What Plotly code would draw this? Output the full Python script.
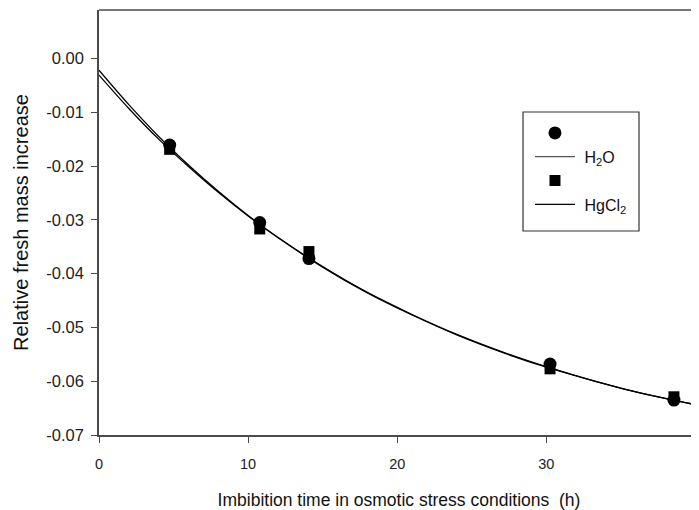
import plotly.graph_objects as go

# Measured points
time_h = [4.74, 10.78, 14.08, 30.25, 38.56]
h2o_y = [-0.0161, -0.0305, -0.0372, -0.0568, -0.0635]
hgcl2_y = [-0.0169, -0.0317, -0.0359, -0.0577, -0.0629]

# Fitted curves
curve_x = [0, 2, 4, 6, 8, 10, 12, 15, 18, 21, 24, 27, 30, 33, 36, 39, 41]
h2o_fit = [-0.0022, -0.0086, -0.0145, -0.0198, -0.0247, -0.0292, -0.0333, -0.0388,
           -0.0436, -0.0477, -0.0514, -0.0546, -0.0574, -0.0598, -0.0620, -0.0638, -0.0649]
hgcl2_fit = [-0.0031, -0.0093, -0.0150, -0.0201, -0.0249, -0.0293, -0.0333, -0.0387,
             -0.0435, -0.0476, -0.0513, -0.0545, -0.0573, -0.0598, -0.0620, -0.0638, -0.0649]

x_ticks = [0, 10, 20, 30]
y_ticks = [0.00, -0.01, -0.02, -0.03, -0.04, -0.05, -0.06, -0.07]
y_tick_text = ["0.00", "-0.01", "-0.02", "-0.03", "-0.04", "-0.05", "-0.06", "-0.07"]

FONT = "Liberation Sans, Arial, sans-serif"
AXC = "#4a4a4a"
NB = "\u00a0"

fig = go.Figure()
fig.add_trace(go.Scatter(x=curve_x, y=h2o_fit, mode="lines", line=dict(color="black", width=1.3, shape="spline"),
                         showlegend=False, hoverinfo="skip"))
fig.add_trace(go.Scatter(x=curve_x, y=hgcl2_fit, mode="lines", line=dict(color="black", width=1.3, shape="spline"),
                         showlegend=False, hoverinfo="skip"))
fig.add_trace(go.Scatter(x=time_h, y=hgcl2_y, mode="markers",
                         marker=dict(symbol="square", size=11, color="black"), showlegend=False))
fig.add_trace(go.Scatter(x=time_h, y=h2o_y, mode="markers",
                         marker=dict(symbol="circle", size=13, color="black"), showlegend=False))

# legend entries
fig.add_trace(go.Scatter(x=[None], y=[None], mode="markers", name=" ",
                         marker=dict(symbol="circle", size=13, color="black"), legendrank=1))
fig.add_trace(go.Scatter(x=[None], y=[None], mode="lines", name=NB + "H<sub>2</sub>O",
                         line=dict(color="#555", width=1.3), legendrank=2))
fig.add_trace(go.Scatter(x=[None], y=[None], mode="markers", name="  ",
                         marker=dict(symbol="square", size=11, color="black"), legendrank=3))
fig.add_trace(go.Scatter(x=[None], y=[None], mode="lines", name=NB + "HgCl<sub>2</sub>",
                         line=dict(color="black", width=1.3), legendrank=4))

fig.update_layout(
    width=691, height=502,
    margin=dict(l=91, r=0, t=2, b=75),
    paper_bgcolor="white", plot_bgcolor="white",
    font=dict(family=FONT, size=15, color="#222"),
    showlegend=True,
    legend=dict(x=0.7183, y=0.7506, xanchor="left", yanchor="top",
                borderwidth=0, bgcolor="rgba(0,0,0,0)",
                font=dict(family=FONT, size=16, color="#111"),
                itemwidth=40, tracegroupgap=0),
    xaxis=dict(range=[0, 40.24], tickvals=x_ticks, ticktext=[str(v) for v in x_ticks],
               showgrid=False, zeroline=False, showline=True, linecolor=AXC, linewidth=1.5,
               ticks="outside", ticklen=6, tickwidth=1.2, tickcolor=AXC,
               ticklabelstandoff=9, automargin=False,
               tickfont=dict(family=FONT, size=14.5, color="#222"),
               title=dict(text="Imbibition time in osmotic stress conditions  (h)",
                          font=dict(family=FONT, size=17.5, color="#111"), standoff=24)),
    yaxis=dict(range=[-0.07, 0.009], tickvals=y_ticks, ticktext=y_tick_text,
               showgrid=False, zeroline=False, showline=True, linecolor=AXC, linewidth=1.5,
               ticks="outside", ticklen=6, tickwidth=1.2, tickcolor=AXC,
               ticklabelstandoff=4, automargin=False,
               tickfont=dict(family=FONT, size=16.5, color="#222"),
               title=dict(text="Relative fresh mass increase",
                          font=dict(family=FONT, size=20, color="#111"), standoff=12)),
    shapes=[dict(type="line", xref="paper", yref="paper", x0=0, x1=1, y0=1, y1=1,
                 line=dict(color=AXC, width=1.5)),
            dict(type="rect", xref="paper", yref="paper", x0=0.7067, x1=0.9, y0=0.48, y1=0.76,
                 line=dict(color="#333", width=1.2), fillcolor="rgba(0,0,0,0)")],
)

fig.write_html("out.html")
